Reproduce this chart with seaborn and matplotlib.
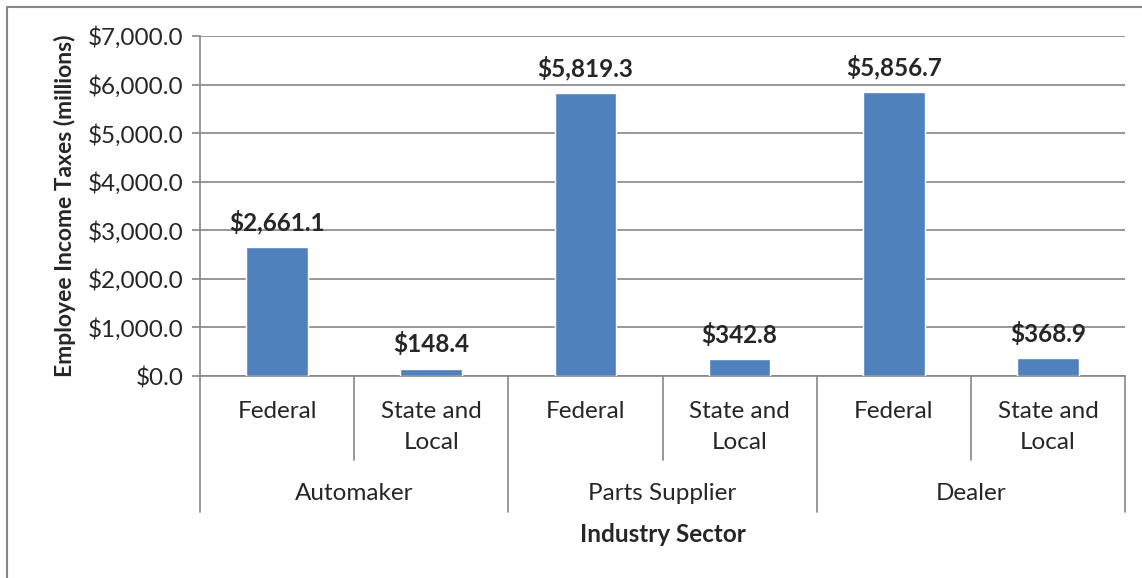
import matplotlib
matplotlib.use("Agg")
import matplotlib.pyplot as plt
import matplotlib.ticker as mticker
from matplotlib.lines import Line2D
import seaborn as sns
import pandas as pd

# Data
sectors = ["Automaker", "Parts Supplier", "Dealer"]
tax_types = ["Federal", "State and\nLocal"]
taxes = [2661.1, 148.4, 5819.3, 342.8, 5856.7, 368.9]

rows = []
k = 0
for s in sectors:
    for t in tax_types:
        rows.append({"slot": f"{s}|{t}", "sector": s, "tax": t, "value": taxes[k]})
        k += 1
df = pd.DataFrame(rows)

sns.set_style("white")
plt.rcParams["font.family"] = ["Lato", "DejaVu Sans"]

grey = "#868686"
fs = 17.5
fig = plt.figure(figsize=(11.42, 5.78), dpi=100)
ax = fig.add_axes([200 / 1142, 1 - 376 / 578, 925 / 1142, 340 / 578])

sns.barplot(data=df, x="slot", y="value", color="#4F81BD", width=0.4,
            saturation=1, ax=ax, zorder=3)

ax.set_ylim(0, 7000)
ax.set_xlim(-0.5, len(df) - 0.5)
ax.yaxis.set_major_locator(mticker.MultipleLocator(1000))
ax.yaxis.set_major_formatter(mticker.FuncFormatter(lambda v, p: "${:,.1f}".format(v)))
ax.grid(axis="y", color=grey, linewidth=1.2, zorder=0)
ax.tick_params(axis="y", labelsize=fs, length=6, color=grey, width=1.2, pad=6,
               direction="out", left=True)
ax.set_xticks([])
ax.set_xlabel("")
ax.set_ylabel("Employee Income Taxes (millions)", fontsize=16.5, fontweight="bold",
              labelpad=8)
for side in ["top", "right"]:
    ax.spines[side].set_visible(False)
for side in ["left", "bottom"]:
    ax.spines[side].set_color(grey)
    ax.spines[side].set_linewidth(1.2)

# Value labels
for bar, v in zip(ax.patches, df["value"]):
    ax.annotate("${:,.1f}".format(v), (bar.get_x() + bar.get_width() / 2, v),
                xytext=(0, 9), textcoords="offset points", ha="center", va="bottom",
                fontsize=fs, fontweight="bold")

# Two-level category axis
trans = ax.get_xaxis_transform()
inner_y = -(460 - 376) / 340
outer_y = -(512 - 376) / 340
for i in range(len(df) + 1):
    x = i - 0.5
    y_end = outer_y if i % 2 == 0 else inner_y
    ax.add_line(Line2D([x, x], [0, y_end], transform=trans, color=grey,
                       linewidth=1.2, clip_on=False))
for i, r in df.iterrows():
    ax.text(i, -(401 - 376) / 340, r["tax"], transform=trans, ha="center",
            va="top", fontsize=fs, linespacing=1.6)
for j, s in enumerate(sectors):
    ax.text(2 * j + 0.5, -(494 - 376) / 340, s, transform=trans, ha="center",
            va="center", fontsize=fs)
ax.text(2.5, -(534 - 376) / 340, "Industry Sector", transform=trans, ha="center",
        va="center", fontsize=fs, fontweight="bold")

# Chart area border (only left and top edges visible)
fig.add_artist(Line2D([6.5 / 1142, 6.5 / 1142], [0, 1 - 6.5 / 578], color=grey,
                      linewidth=1.5, transform=fig.transFigure))
fig.add_artist(Line2D([6.5 / 1142, 1], [1 - 6.5 / 578, 1 - 6.5 / 578], color=grey,
                      linewidth=1.5, transform=fig.transFigure))

fig.savefig("out.png", dpi=100, facecolor="white")
